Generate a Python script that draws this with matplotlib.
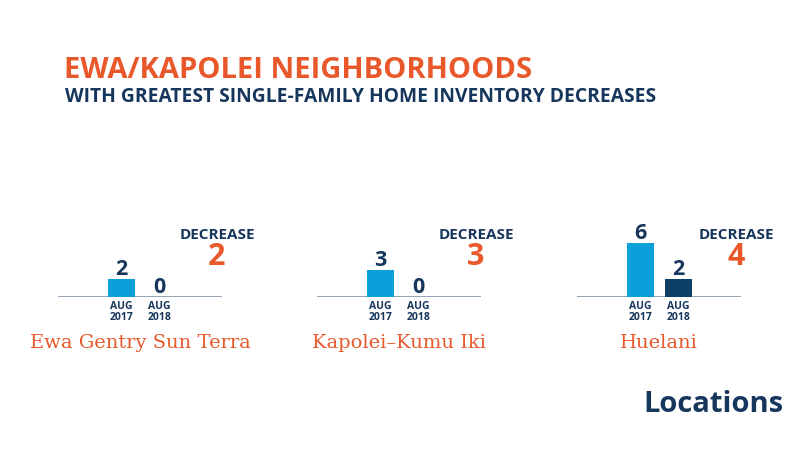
import matplotlib
matplotlib.use('Agg')
import matplotlib.pyplot as plt

# data
neighborhoods = ['Ewa Gentry Sun Terra', 'Kapolei\u2013Kumu Iki', 'Huelani']
aug2017 = [2, 3, 6]
aug2018 = [0, 0, 2]
decrease = [2, 3, 4]
periods = ['AUG\n2017', 'AUG\n2018']

orange = '#E8582A'
navy = '#16365C'
light_blue = '#0B9FDB'
dark_blue = '#0E3F66'
base_grey = '#7F93A8'

plt.rcParams['font.family'] = ['Open Sans', 'DejaVu Sans']

fig = plt.figure(figsize=(8, 4.5), dpi=100)
fig.patch.set_facecolor('white')

fig.text(64 / 800, 1 - 70 / 450, 'EWA/KAPOLEI NEIGHBORHOODS', color=orange,
         fontsize=21, fontweight='bold', va='center', ha='left')
fig.text(65 / 800, 1 - 97 / 450, 'WITH GREATEST SINGLE-FAMILY HOME INVENTORY DECREASES',
         color=navy, fontsize=13.9, fontweight='bold', va='center', ha='left')

lefts = [58, 317, 577]
px_per_unit = 9.0
pt = 0.72  # points per pixel at 100 dpi

for i, name in enumerate(neighborhoods):
    ax = fig.add_axes([lefts[i] / 800, (450 - 297) / 450, 164 / 800, 60 / 450])
    ax.set_xlim(0, 164)
    ax.set_ylim(0, 60 / px_per_unit)
    ax.axis('off')
    ax.axhline(0, color=base_grey, lw=1.2, zorder=1)

    xs = [63.5, 101.5]
    vals = [aug2017[i], aug2018[i]]
    ax.bar(xs, vals, width=27, color=[light_blue, dark_blue], zorder=2)
    for x, v, lab in zip(xs, vals, periods):
        ax.annotate(str(v), xy=(x, v), xytext=(0, -1), textcoords='offset points',
                    ha='center', va='bottom', color=navy, fontsize=15.5,
                    fontweight='bold', annotation_clip=False)
        ax.annotate(lab, xy=(x, 0), xytext=(0, -4 * pt), textcoords='offset points',
                    ha='center', va='top', color=navy, fontsize=7.5,
                    fontweight='bold', linespacing=1.0, annotation_clip=False)

    ax.annotate('DECREASE', xy=(159, 0), xytext=(0, 62 * pt), textcoords='offset points',
                ha='center', va='center', color=navy, fontsize=11,
                fontweight='bold', annotation_clip=False)
    ax.annotate(str(decrease[i]), xy=(159, 0), xytext=(0, 40 * pt),
                textcoords='offset points', ha='center', va='center', color=orange,
                fontsize=22, fontweight='bold', annotation_clip=False)
    ax.annotate(name, xy=(82, 0), xytext=(0, -46 * pt), textcoords='offset points',
                ha='center', va='center', color=orange, fontsize=14,
                family='DejaVu Serif', annotation_clip=False)

fig.text(784 / 800, 1 - 404 / 450, 'Locations', color=navy, fontsize=21,
         fontweight='bold', ha='right', va='center')

fig.savefig('out.png', dpi=100, facecolor='white')
